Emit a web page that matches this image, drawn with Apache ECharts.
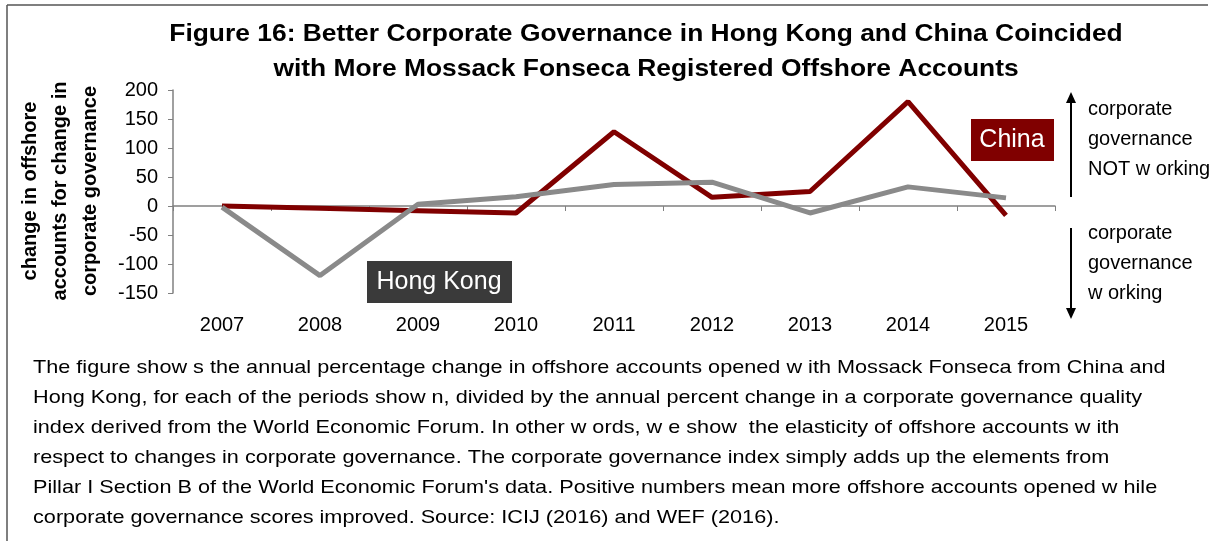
<!DOCTYPE html>
<html>
<head>
<meta charset="utf-8">
<script src="https://cdn.jsdelivr.net/npm/echarts@6/dist/echarts.min.js"></script>
<style>
  html, body { margin: 0; padding: 0; background: #fff; }
  #chart { width: 1217px; height: 541px; }
</style>
</head>
<body>
<div id="chart"></div>
<script>
    // years on the x axis
    var years = ['2007', '2008', '2009', '2010', '2011', '2012', '2013', '2014', '2015'];
    // elasticity of offshore accounts vs corporate governance change
    var chinaValues = [0, -4, -8, -12, 128, 15, 25, 180, -16];
    var hongKongValues = [-2, -120, 3, 16, 37, 41, -12, 33, 14];
    var yTicks = [-150, -100, -50, 0, 50, 100, 150, 200];

    var titleLines = [
        'Figure 16: Better Corporate Governance in Hong Kong and China Coincided',
        'with More Mossack Fonseca Registered Offshore Accounts'
    ];
    var yNameLines = ['change in offshore', 'accounts for change in', 'corporate governance'];
    var upNote = ['corporate', 'governance', 'NOT w orking'];
    var downNote = ['corporate', 'governance', 'w orking'];
    var captionLines = [
        'The figure show s the annual percentage change in offshore accounts opened w ith Mossack Fonseca from China and',
        'Hong Kong, for each of the periods show n, divided by the annual percent change in a corporate governance quality',
        'index derived from the World Economic Forum. In other w ords, w e show  the elasticity of offshore accounts w ith',
        'respect to changes in corporate governance. The corporate governance index simply adds up the elements from',
        'Pillar I Section B of the World Economic Forum\'s data. Positive numbers mean more offshore accounts opened w hile',
        'corporate governance scores improved. Source: ICIJ (2016) and WEF (2016).'
    ];

    var FONT = 'Arial, "Liberation Sans", sans-serif';
    var chart = echarts.init(document.getElementById('chart'));

    var graphics = [];
    //frame: top and left only
    graphics.push({ type: 'line', shape: { x1: 7, y1: 5, x2: 1208, y2: 5 }, style: { stroke: '#555', lineWidth: 1.5 } });
    graphics.push({ type: 'line', shape: { x1: 7, y1: 5, x2: 7, y2: 541 }, style: { stroke: '#555', lineWidth: 1.5 } });

    titleLines.forEach(function (t, i) {
        graphics.push({
            type: 'text', x: 646, y: 34 + i * 35, scaleX: 1.1,
            style: { text: t, font: 'bold 24px ' + FONT, fill: '#000', align: 'center', verticalAlign: 'middle' }
        });
    });

    yNameLines.forEach(function (t, i) {
        graphics.push({
            type: 'text', x: 30 + i * 30, y: 191, rotation: Math.PI / 2,
            style: { text: t, font: 'bold 20px ' + FONT, fill: '#000', align: 'center', verticalAlign: 'middle' }
        });
    });

    // series labels
    graphics.push({ type: 'rect', shape: { x: 971, y: 119, width: 83, height: 42 }, style: { fill: '#800000' } });
    graphics.push({ type: 'text', x: 1012, y: 140, style: { text: 'China', font: '25px ' + FONT, fill: '#fff', align: 'center', verticalAlign: 'middle' } });
    graphics.push({ type: 'rect', shape: { x: 367, y: 261, width: 145, height: 42 }, style: { fill: '#3a3a3a' } });
    graphics.push({ type: 'text', x: 439, y: 282, style: { text: 'Hong Kong', font: '25px ' + FONT, fill: '#fff', align: 'center', verticalAlign: 'middle' } });

    // arrows on the right
    graphics.push({ type: 'line', shape: { x1: 1071, y1: 100, x2: 1071, y2: 197 }, style: { stroke: '#000', lineWidth: 2 } });
    graphics.push({ type: 'polygon', shape: { points: [[1071, 92], [1066, 103], [1076, 103]] }, style: { fill: '#000' } });
    graphics.push({ type: 'line', shape: { x1: 1071, y1: 228, x2: 1071, y2: 311 }, style: { stroke: '#000', lineWidth: 2 } });
    graphics.push({ type: 'polygon', shape: { points: [[1071, 319], [1066, 308], [1076, 308]] }, style: { fill: '#000' } });

    upNote.forEach(function (t, i) {
        graphics.push({ type: 'text', x: 1088, y: 109 + i * 30, style: { text: t, font: '20px ' + FONT, fill: '#000', align: 'left', verticalAlign: 'middle' } });
    });
    downNote.forEach(function (t, i) {
        graphics.push({ type: 'text', x: 1088, y: 233 + i * 30, style: { text: t, font: '20px ' + FONT, fill: '#000', align: 'left', verticalAlign: 'middle' } });
    });

    captionLines.forEach(function (t, i) {
        graphics.push({ type: 'text', x: 33, y: 368 + i * 30, scaleX: 1.14, style: { text: t, font: '19px ' + FONT, fill: '#000', align: 'left', verticalAlign: 'middle' } });
    });

    var option = {
        animation: false,
        backgroundColor: '#fff',
        grid: { left: 173, right: 162, top: 90, bottom: 248 },
        xAxis: [{
            type: 'category',
            data: years,
            position: 'bottom',
            axisLine: { onZero: true, lineStyle: { color: '#808080', width: 1.5 } },
            axisTick: { show: true, length: 5, lineStyle: { color: '#808080' } },
            axisLabel: { show: false },
            splitLine: { show: false }
        }, {
            type: 'category',
            data: years,
            position: 'bottom',
            axisLine: { show: false, onZero: false },
            axisTick: { show: false },
            axisLabel: { fontSize: 20, color: '#000', fontFamily: FONT, margin: 22 },
            splitLine: { show: false }
        }],
        yAxis: {
            type: 'value',
            min: yTicks[0],
            max: yTicks[yTicks.length - 1],
            interval: 50,
            axisLine: { show: true, lineStyle: { color: '#808080', width: 1.5 } },
            axisTick: { show: true, length: 5, lineStyle: { color: '#808080' } },
            axisLabel: { fontSize: 20, color: '#000', fontFamily: FONT, margin: 15 },
            splitLine: { show: false }
        },
        series: [{
            name: 'China',
            type: 'line',
            xAxisIndex: 0,
            data: chinaValues,
            symbol: 'none',
            lineStyle: { color: '#800000', width: 5 },
            z: 2
        }, {
            name: 'Hong Kong',
            type: 'line',
            xAxisIndex: 0,
            data: hongKongValues,
            symbol: 'none',
            lineStyle: { color: '#8a8a8a', width: 5 },
            z: 3
        }],
        graphic: graphics
    };
    chart.setOption(option);
    window.onresize = function () { chart.resize(); };
</script>
</body>
</html>
